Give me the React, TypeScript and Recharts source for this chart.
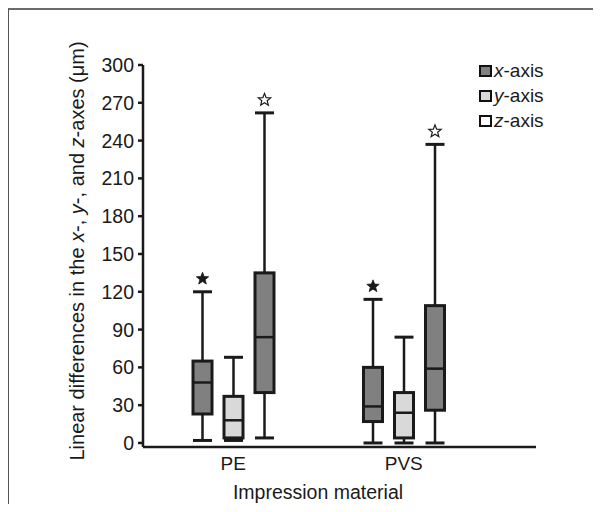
import { Bar, ComposedChart, Label, XAxis, YAxis } from "recharts";

const categories = ["PE", "PVS"];

// x-axis series
const xMin = [2, 0];
const xQ1 = [23, 17];
const xMed = [48, 29];
const xQ3 = [65, 60];
const xMax = [120, 114];

// y-axis series
const yMin = [2, 0];
const yQ1 = [4, 4];
const yMed = [18, 24];
const yQ3 = [37, 40];
const yMax = [68, 84];

// z-axis series
const zMin = [4, 0];
const zQ1 = [40, 26];
const zMed = [84, 59];
const zQ3 = [135, 109];
const zMax = [262, 237];

const yTicks = [0, 30, 60, 90, 120, 150, 180, 210, 240, 270, 300];

const legendItems = [
  { label: "x", color: "#808080" },
  { label: "y", color: "#d9d9d9" },
  { label: "z", color: "#ffffff" },
];

const data = categories.map((name, i) => ({
  name,
  x: [xMin[i], xMax[i]],
  y: [yMin[i], yMax[i]],
  z: [zMin[i], zMax[i]],
  xs: { min: xMin[i], q1: xQ1[i], med: xMed[i], q3: xQ3[i], max: xMax[i] },
  ys: { min: yMin[i], q1: yQ1[i], med: yMed[i], q3: yQ3[i], max: yMax[i] },
  zs: { min: zMin[i], q1: zQ1[i], med: zMed[i], q3: zQ3[i], max: zMax[i] },
}));

const FONT = "'Liberation Sans', Arial, sans-serif";
const INK = "#1a1a1a";

function starPoints(cx: number, cy: number, R: number, r: number) {
  const pts: string[] = [];
  for (let k = 0; k < 10; k++) {
    const a = -Math.PI / 2 + (k * Math.PI) / 5;
    const rad = k % 2 === 0 ? R : r;
    pts.push(`${cx + rad * Math.cos(a)},${cy + rad * Math.sin(a)}`);
  }
  return pts.join(" ");
}

function makeBox(statsKey: "xs" | "ys" | "zs", fill: string, star: "filled" | "open" | null) {
  return (props: any) => {
    const { x, y, width, height, payload } = props;
    const s = payload[statsKey];
    const py = (v: number) => y + (height * (s.max - v)) / (s.max - s.min);
    const cx = x + width / 2;
    const top = py(s.q3);
    const bottom = py(s.q1);
    return (
      <g>
        <line x1={cx} x2={cx} y1={py(s.max)} y2={py(s.min)} stroke={INK} strokeWidth={2.5} />
        <line x1={x} x2={x + width} y1={py(s.max)} y2={py(s.max)} stroke={INK} strokeWidth={3} />
        <line x1={x} x2={x + width} y1={py(s.min)} y2={py(s.min)} stroke={INK} strokeWidth={3} />
        <rect x={x} y={top} width={width} height={bottom - top} fill={fill} stroke={INK} strokeWidth={3} />
        <line x1={x} x2={x + width} y1={py(s.med)} y2={py(s.med)} stroke={INK} strokeWidth={2.5} />
        {star && (
          <polygon
            points={starPoints(cx, py(s.max) - 13, 6.5, 2.8)}
            fill={star === "filled" ? INK : "#fff"}
            stroke={INK}
            strokeWidth={star === "filled" ? 0.8 : 1.2}
          />
        )}
      </g>
    );
  };
}

export default function App() {
  return (
    <div style={{ position: "relative", width: 601, height: 512, margin: -8, background: "#fff" }}>
      <div
        style={{
          position: "absolute",
          left: 8,
          top: 8,
          width: 593,
          height: 504,
          borderTop: "2px solid #6b6b6b",
          borderLeft: "1px solid #555",
          boxSizing: "border-box",
        }}
      />
      <div style={{ position: "absolute", left: 0, top: 0 }}>
        <ComposedChart
          width={601}
          height={512}
          data={data}
          barSize={19}
          barGap={12}
          margin={{ top: 65, right: 65, left: 83, bottom: 35 }}
        >
          <XAxis
            dataKey="name"
            height={30}
            padding={{ left: 5, right: 47 }}
            tickLine={false}
            axisLine={{ stroke: INK, strokeWidth: 2.5 }}
            tickMargin={4}
            tick={{ fontSize: 19, fill: INK, fontFamily: FONT }}
          >
            <Label
              content={() => (
                <text x={318} y={492} textAnchor="middle" dominantBaseline="central" fontSize={19.5} fill={INK} fontFamily={FONT}>
                  Impression material
                </text>
              )}
            />
          </XAxis>
          <YAxis
            width={60}
            domain={[-3.2, 300]}
            ticks={yTicks}
            interval={0}
            tickSize={5}
            tickMargin={4}
            axisLine={{ stroke: INK, strokeWidth: 2.5 }}
            tickLine={{ stroke: INK, strokeWidth: 2.5 }}
            tick={{ fontSize: 19.5, fill: INK, fontFamily: FONT }}
          >
            <Label
              content={() => (
                <text
                  x={77}
                  y={251}
                  transform="rotate(-90 77 251)"
                  textAnchor="middle"
                  dominantBaseline="central"
                  fontSize={20}
                  fill={INK}
                  fontFamily={FONT}
                >
                  Linear differences in the <tspan fontStyle="italic">x</tspan>-, <tspan fontStyle="italic">y</tspan>-, and{" "}
                  <tspan fontStyle="italic">z</tspan>-axes (μm)
                </text>
              )}
            />
          </YAxis>
          <Bar dataKey="x" isAnimationActive={false} shape={makeBox("xs", "#808080", "filled")} />
          <Bar dataKey="y" isAnimationActive={false} shape={makeBox("ys", "#d9d9d9", null)} />
          <Bar dataKey="z" isAnimationActive={false} shape={makeBox("zs", "#808080", "open")} />
        </ComposedChart>
      </div>
      <div style={{ position: "absolute", left: 479, top: 58, fontFamily: FONT, fontSize: 19, color: INK }}>
        {legendItems.map((it) => (
          <div key={it.label} style={{ display: "flex", alignItems: "center", height: 25 }}>
            <span
              style={{
                display: "inline-block",
                width: 9,
                height: 8,
                border: "2px solid #111",
                background: it.color,
                marginRight: 2,
              }}
            />
            <span>
              <i>{it.label}</i>-axis
            </span>
          </div>
        ))}
      </div>
    </div>
  );
}
